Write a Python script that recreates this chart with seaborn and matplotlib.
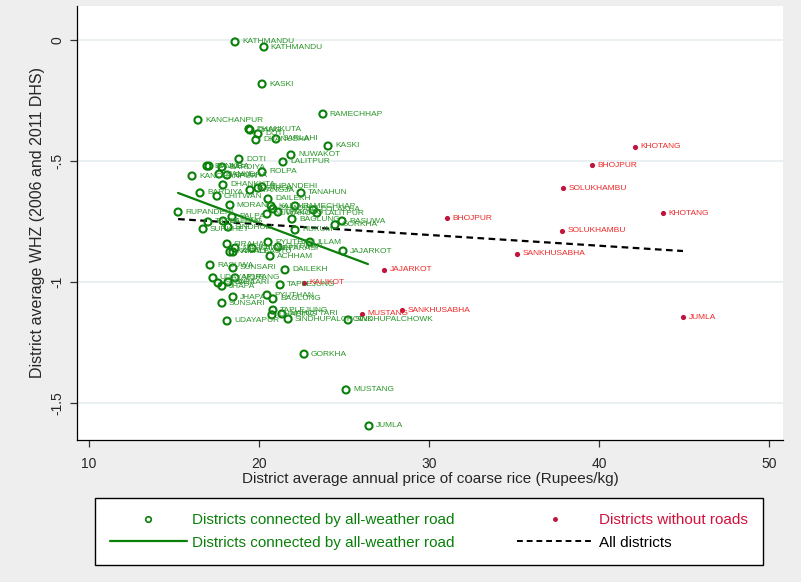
import matplotlib
matplotlib.use("Agg")
import matplotlib.pyplot as plt
import seaborn as sns
import pandas as pd
from matplotlib.lines import Line2D

# ---------------- data ----------------
conn_names = [
    "KATHMANDU", "KATHMANDU", "KASKI", "RAMECHHAP", "KANCHANPUR", "DHANKUTA", "DANG",
    "DOTI", "DHANUSHA", "SARLAHI", "KASKI", "NUWAKOT", "LALITPUR", "DOTI",
    "BANKE", "BAJURA", "BARDIYA", "ROLPA", "KANCHANPUR", "BANKE", "BAJURA",
    "DHANKUTA", "SYANGJA", "PARSA", "RUPANDEHI", "BARDIYA", "CHITWAN", "TANAHUN",
    "DAILEKH", "MORANG", "KAILALI", "DHADING", "RAMECHHAP", "DOLAKHA", "LALITPUR",
    "DHADING", "NUWAKOT", "PALPA", "BAGLUNG", "RASUWA", "GORKHA", "RUPANDEHI",
    "TAPLEJUNG", "SALYAN", "SURKHET", "SINDHULI", "RUKUM", "SIRAHA", "MAHOTTARI",
    "KAILALI", "KAPILBASTU", "NAWALPARASI", "PYUTHAN", "CHITWAN", "ACHHAM", "ILLAM",
    "JAJARKOT", "RASUWA", "SUNSARI", "DAILEKH", "UDAYAPUR", "SIRAHA", "JHAPA",
    "SAPTARI", "MORANG", "TAPLEJUNG", "JHAPA", "SUNSARI", "PYUTHAN", "BAGLUNG",
    "TAPLEJUNG", "DHADING", "MAHOTTARI", "SINDHUPALCHOWK", "SINDHUPALCHOWK", "UDAYAPUR",
    "GORKHA", "MUSTANG", "JUMLA",
]
conn_price = [
    18.59, 20.29, 20.18, 23.76, 16.41, 19.41, 19.47,
    19.94, 19.82, 21.00, 24.06, 21.88, 21.41, 18.82,
    16.94, 17.06, 17.82, 20.18, 16.06, 17.65, 18.12,
    17.88, 19.47, 19.94, 20.18, 16.53, 17.53, 22.47,
    20.53, 18.29, 20.71, 20.82, 22.12, 23.18, 23.41,
    21.12, 20.47, 18.41, 21.94, 24.88, 24.47, 15.24,
    17.00, 17.88, 16.71, 18.18, 22.12, 18.12, 18.59,
    18.29, 18.47, 19.59, 20.53, 21.12, 20.65, 23.00,
    24.94, 17.12, 18.47, 21.53, 17.29, 17.59, 17.82,
    18.18, 18.59, 21.24, 18.47, 17.82, 20.47, 20.82,
    20.82, 20.76, 21.35, 21.71, 25.24, 18.12,
    22.65, 25.12, 26.47,
]
conn_whz = [
    -0.008, -0.029, -0.182, -0.306, -0.331, -0.368, -0.372,
    -0.388, -0.413, -0.409, -0.438, -0.475, -0.504, -0.492,
    -0.521, -0.521, -0.525, -0.545, -0.562, -0.554, -0.558,
    -0.599, -0.620, -0.612, -0.607, -0.632, -0.645, -0.632,
    -0.657, -0.682, -0.686, -0.698, -0.686, -0.702, -0.715,
    -0.711, -0.719, -0.731, -0.740, -0.748, -0.764, -0.711,
    -0.752, -0.748, -0.781, -0.773, -0.785, -0.843, -0.860,
    -0.876, -0.876, -0.860, -0.835, -0.855, -0.893, -0.835,
    -0.872, -0.930, -0.942, -0.950, -0.983, -1.004, -1.017,
    -1.000, -0.983, -1.012, -1.062, -1.087, -1.054, -1.070,
    -1.116, -1.136, -1.132, -1.153, -1.157, -1.161,
    -1.298, -1.446, -1.595,
]

noroad_names = ["KHOTANG", "BHOJPUR", "SOLUKHAMBU", "BHOJPUR", "KHOTANG", "SOLUKHAMBU",
                "SANKHUSABHA", "JAJARKOT", "KALIKOT", "MUSTANG", "SANKHUSABHA", "JUMLA"]
noroad_price = [42.12, 39.59, 37.88, 31.06, 43.76, 37.82, 35.18, 27.35, 22.65, 26.06, 28.41, 44.94]
noroad_whz = [-0.442, -0.517, -0.612, -0.736, -0.715, -0.789, -0.884, -0.950, -1.004, -1.132, -1.116, -1.145]

# fitted lines (endpoints)
conn_fit_x = [15.24, 26.41]
conn_fit_y = [-0.632, -0.926]
all_fit_x = [15.24, 44.94]
all_fit_y = [-0.740, -0.872]

x_ticks = [10, 20, 30, 40, 50]
y_ticks = [0, -0.5, -1, -1.5]
y_ticklabels = ["0", "-.5", "-1", "-1.5"]

# ---------------- style ----------------
sns.set_theme(style="white")
plt.rcParams["font.family"] = ["Liberation Sans", "DejaVu Sans"]

GREEN = "#0a800a"
GREEN_TXT = "#2a962a"
RED_MK = "#c0143c"
RED_TXT = "#f02828"
BG = "#eeeeee"

TOP_PX = 6
fig = plt.figure(figsize=(8.01, 5.82), dpi=100, facecolor=BG)
ax = fig.add_axes([77 / 801, 1 - 440 / 582, (783 - 77) / 801, (440 - TOP_PX) / 582])
ax.set_facecolor("white")

df_c = pd.DataFrame({"price": conn_price, "whz": conn_whz, "name": conn_names})
df_r = pd.DataFrame({"price": noroad_price, "whz": noroad_whz, "name": noroad_names})
df_cf = pd.DataFrame({"x": conn_fit_x, "y": conn_fit_y})
df_af = pd.DataFrame({"x": all_fit_x, "y": all_fit_y})

for yv in y_ticks:
    ax.axhline(yv, color="#e6eef0", lw=1.2, zorder=0)

sns.scatterplot(data=df_c, x="price", y="whz", ax=ax, marker="o", s=26,
                facecolors="none", edgecolor=GREEN, linewidth=1.5, zorder=3)
sns.scatterplot(data=df_r, x="price", y="whz", ax=ax, marker="o", s=14,
                color=RED_MK, edgecolor=RED_MK, linewidth=0, zorder=3)
sns.lineplot(data=df_cf, x="x", y="y", ax=ax, color=GREEN, lw=1.6, zorder=2)
sns.lineplot(data=df_af, x="x", y="y", ax=ax, color="black", lw=1.6,
             linestyle=(0, (3, 2)), zorder=2)

for _, r in df_c.iterrows():
    ax.annotate(r["name"], (r["price"], r["whz"]), xytext=(5, 0), textcoords="offset points",
                fontsize=6, color=GREEN_TXT, va="center", ha="left", zorder=4)
for _, r in df_r.iterrows():
    ax.annotate(r["name"], (r["price"], r["whz"]), xytext=(4, 0), textcoords="offset points",
                fontsize=6, color=RED_TXT, va="center", ha="left", zorder=4)

ax.set_xlim(10 - 12 / 17, 10 + 694 / 17)
ax.set_ylim(-400 / 242, (40 - TOP_PX) / 242)
ax.set_xticks(x_ticks)
ax.set_xticklabels([str(v) for v in x_ticks], fontsize=10)
ax.set_yticks(y_ticks)
ax.set_yticklabels(y_ticklabels, fontsize=10, rotation=90, va="center")
ax.tick_params(axis="both", which="major", bottom=True, left=True, direction="out",
               length=5, width=0.9, color="#333333")
ax.tick_params(axis="x", pad=7)
ax.tick_params(axis="y", pad=4)
for s in ["top", "right"]:
    ax.spines[s].set_visible(False)
for s in ["left", "bottom"]:
    ax.spines[s].set_color("black")
    ax.spines[s].set_linewidth(0.9)

ax.set_xlabel("District average annual price of coarse rice (Rupees/kg)", fontsize=11, labelpad=1)
ax.set_ylabel("District average WHZ (2006 and 2011 DHS)", fontsize=11.5, labelpad=4)

handles = [
    Line2D([], [], marker="o", linestyle="none", markersize=4, markerfacecolor="none",
           markeredgecolor=GREEN, markeredgewidth=1.2),
    Line2D([], [], color=GREEN, lw=1.6),
    Line2D([], [], marker="o", linestyle="none", markersize=2.5, color=RED_MK),
    Line2D([], [], color="black", lw=1.4, linestyle=(0, (3, 2))),
]
labels = ["Districts connected by all-weather road", "Districts connected by all-weather road",
          "Districts without roads", "All districts"]
leg = fig.legend(handles, labels, ncol=2, loc="lower left",
                 bbox_to_anchor=(95 / 801, 1 - 565 / 582, (763 - 95) / 801, (565 - 497) / 582),
                 mode="expand", borderaxespad=0, fontsize=11, frameon=True, fancybox=False,
                 edgecolor="black", facecolor="white", framealpha=1, handlelength=5.0,
                 handletextpad=0.35, borderpad=1.0, labelspacing=0.55, columnspacing=3)
leg.get_frame().set_linewidth(1.0)
txt_cols = [GREEN, GREEN, "#d0103a", "black"]
for t, c in zip(leg.get_texts(), txt_cols):
    t.set_color(c)

fig.savefig("out.png", dpi=100, facecolor=BG)
